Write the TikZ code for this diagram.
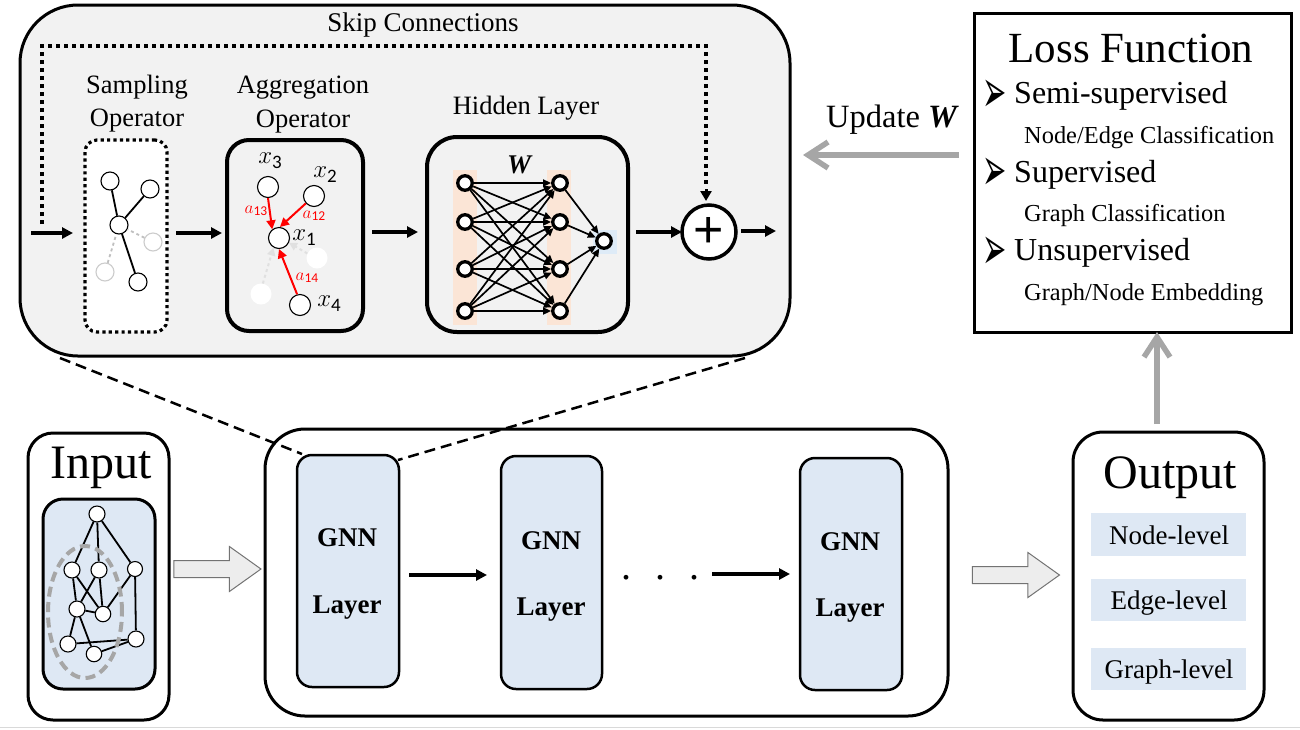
\documentclass[tikz,border=0pt]{standalone}
\usepackage{fontspec}
\usepackage{graphicx}
\setmainfont{Liberation Serif}
\newfontfamily\plusfont{Liberation Sans}
\newfontfamily\markfont{DejaVu Sans}
\newfontfamily\digitfont{Carlito}
\usetikzlibrary{arrows.meta,shapes.arrows,shapes.geometric}
\definecolor{panel}{HTML}{F2F2F2}
\definecolor{gnnblue}{HTML}{DEE8F4}
\definecolor{lightblue}{HTML}{DEEBF7}
\definecolor{peach}{HTML}{FBE5D6}
\definecolor{midgray}{HTML}{A6A6A6}
\definecolor{blockfill}{HTML}{EDEDED}
\newcommand{\fs}[1]{\fontsize{#1}{#1}\selectfont}
\newcommand{\xsub}[1]{\fs{27}$x$\raisebox{-5pt}{\digitfont\fs{19}#1}}
\newcommand{\asub}[1]{\fs{18}$a$\raisebox{-2.5pt}{\digitfont\fs{13.5}#1}}
\newcommand{\mk}{\markfont\fs{29}\scalebox{1}[2.1]{➢}}
% \rbox{name}{style}{x1}{y1}{x2}{y2}
\newcommand{\rbox}[6]{%
  \pgfmathsetmacro{\rw}{#5-#3}\pgfmathsetmacro{\rh}{#6-#4}%
  \pgfmathsetmacro{\rx}{(#3+#5)/2}\pgfmathsetmacro{\ry}{(#4+#6)/2}%
  \node[#2,minimum width=\rw pt,minimum height=\rh pt,inner sep=0pt,outer sep=0pt] (#1) at (\rx,\ry) {};}
\tikzset{
  arr/.style={line width=3.4pt,-{Triangle[length=11pt,width=11pt]}},
  nnedge/.style={line width=1.7pt,-{Triangle[length=8pt,width=7pt]}},
  lab/.style={inner sep=0pt,align=center},
  blab/.style={inner sep=0pt,anchor=base},
  blw/.style={inner sep=0pt,anchor=base west},
  gnnbox/.style={draw,rounded corners=15pt,fill=gnnblue,line width=2.5pt},
  outlabel/.style={fill=gnnblue},
  vsmall/.style={circle,draw,fill=white,line width=1.1pt,minimum size=18pt,inner sep=0pt},
  vgray/.style={circle,draw=black!20,fill=white,line width=1.1pt,minimum size=18pt,inner sep=0pt},
  vagg/.style={circle,draw,fill=white,line width=1.1pt,minimum size=21pt,inner sep=0pt},
  vfaint/.style={circle,fill=white,minimum size=21pt,inner sep=0pt},
  vin/.style={circle,draw,fill=white,line width=1.1pt,inner sep=0pt},
  nnv/.style={circle,draw,fill=white,line width=3.3pt,minimum size=14.5pt,inner sep=0pt},
  gedge/.style={line width=1.8pt},
  redarr/.style={draw=red,line width=2pt,-{Triangle[length=9pt,width=9pt]}},
  faintarr/.style={draw=black!12,line width=2pt,dashed,-{Triangle[length=8pt,width=8pt]}},
  blockarr/.style={single arrow,draw=black!55,fill=blockfill,line width=1pt,minimum width=44pt,minimum height=87pt,single arrow head extend=14pt,single arrow tip angle=71,inner xsep=0pt,inner ysep=8pt,outer sep=0pt},
  grayarr/.style={draw=midgray,line width=5.5pt,-{Straight Barb[length=20pt,width=26pt,line width=5.5pt]}}
}
\begin{document}
\begin{tikzpicture}[x=1pt,y=-1pt]
\useasboundingbox (0,0) rectangle (1300,729);
\draw[black!15,line width=1pt] (0,727.5) -- (1300,727.5);

% ---------- top panel
\rbox{panelbox}{draw,fill=panel,rounded corners=58pt,line width=3pt}{20}{5}{790}{356}
\node[blab] (skiplabel) at (423,31) {\fs{27}Skip Connections};

\rbox{samp}{draw,fill=white,rounded corners=12pt,line width=3.2pt,dash pattern=on 3.2pt off 3.2pt}{85}{140}{167}{332}
\rbox{agg}{draw,rounded corners=22pt,line width=4pt}{227}{140}{363}{331}
\rbox{hid}{draw,rounded corners=30pt,line width=4pt}{427}{137}{628}{332}

\node[blab] (samplabel) at (137,93) {\fs{26.5}Sampling};
\node[blab] (samplabelb) at (137,126) {\fs{26.5}Operator};
\node[blab] (agglabel) at (303,93) {\fs{26.5}Aggregation};
\node[blab] (agglabelb) at (303,127) {\fs{26.5}Operator};
\node[blab] (hidlabel) at (526,114) {\fs{26.5}Hidden Layer};

% sampling graph
\node[vsmall] (s1) at (110,181) {};
\node[vsmall] (s2) at (150,189) {};
\node[vsmall] (s0) at (119,225) {};
\node[vgray]  (s3) at (153,242) {};
\node[vgray]  (s4) at (105,272) {};
\node[vsmall] (s5) at (138,282) {};
\draw[gedge] (s1) -- (s0);
\draw[gedge] (s2) -- (s0);
\draw[gedge] (s5) -- (s0);
\draw[gedge,black!25,dashed] (s3) -- (s0);
\draw[gedge,black!25,dashed] (s4) -- (s0);

% aggregation graph
\node[vagg] (a3) at (268,187) {};
\node[vagg] (a2) at (314,196) {};
\node[vagg] (a1) at (279,238) {};
\node[vfaint] (af1) at (317,258) {};
\node[vfaint] (af2) at (261,294) {};
\node[vagg] (a4) at (300,305) {};
\draw[faintarr] (af1.155) -- (a1.-25);
\draw[faintarr] (af2.80) -- (a1.240);
\draw[redarr] (a3.south) -- (a1.128);
\draw[redarr] (a2.222) -- (a1.85);
\draw[redarr] (a4.105) -- (a1.270);
\node[lab] (lx3) at (270,161) {\xsub{3}};
\node[lab] (lx2) at (325,175) {\xsub{2}};
\node[lab] (lx1) at (304,238) {\xsub{1}};
\node[lab] (lx4) at (329,304) {\xsub{4}};
\node[lab,text=red] (l13) at (256,211) {\asub{13}};
\node[lab,text=red] (l12) at (314,216) {\asub{12}};
\node[lab,text=red] (l14) at (307,278) {\asub{14}};

% hidden layer
\rbox{bandl}{fill=peach}{453}{170}{477}{325}
\rbox{bandm}{fill=peach}{547}{170}{571}{325}
\rbox{bando}{fill=lightblue}{593}{230}{617}{254}
\node[lab] (wlabel) at (520,165) {\fs{27}\textbf{\textit{W}}};
\node[nnv] (l1) at (465,183) {};
\node[nnv] (l2) at (465,222) {};
\node[nnv] (l3) at (465,269) {};
\node[nnv] (l4) at (465,311) {};
\node[nnv] (m1) at (560,183) {};
\node[nnv] (m2) at (560,222) {};
\node[nnv] (m3) at (560,269) {};
\node[nnv] (m4) at (560,311) {};
\node[nnv] (o1) at (604,241) {};
\foreach \i in {1,2,3,4}{
  \foreach \j in {1,2,3,4}{
    \draw[nnedge] (l\i) -- (m\j);
  }
  \draw[nnedge] (m\i) -- (o1);
}

% plus
\node[circle,draw,fill=white,line width=3.5pt,minimum size=54pt,inner sep=0pt,outer sep=0pt] (plus) at (709,232) {};
\node[lab] (plussign) at (709,232) {\plusfont\fs{52}+};

% panel arrows
\coordinate (inA) at (31,233);
\coordinate (outA) at (776,231);
\coordinate (skipA) at (42,224);
\coordinate (skipB) at (42,46);
\coordinate (skipC) at (706,46);
\draw[arr] (inA) -- ([xshift=-12pt,yshift=3pt]samp.west);
\draw[arr] ([xshift=9pt,yshift=3pt]samp.east) -- ([xshift=-5pt,yshift=2.5pt]agg.west);
\draw[arr] ([xshift=9pt,yshift=3.5pt]agg.east) -- ([xshift=-9pt,yshift=2.5pt]hid.west);
\draw[arr] ([xshift=8pt,yshift=2.5pt]hid.east) -- (plus.west);
\draw[arr] ([xshift=5pt,yshift=1pt]plus.east) -- (outA);
\draw[line width=4pt,dash pattern=on 4pt off 4pt] (skipA) -- (skipB) -- (skipC) -- ([xshift=-3pt,yshift=20pt]plus.north);
\draw[-{Triangle[length=10pt,width=11pt]},line width=3pt] ([xshift=-3pt,yshift=16pt]plus.north) -- ([xshift=-3pt,yshift=4pt]plus.north);

% ---------- bottom row
\rbox{input}{draw,rounded corners=25pt,line width=3pt}{28}{433}{169}{720}
\node[blab] (inputlabel) at (101,478) {\fs{48}Input};
\rbox{graphbox}{draw,fill=gnnblue,rounded corners=20pt,line width=3pt}{43}{499}{155}{689}
\node[vin,minimum size=16pt] (g1) at (97,514) {};
\node[vin,minimum size=16pt] (g2) at (72,570) {};
\node[vin,minimum size=16pt] (g3) at (99,570) {};
\node[vin,minimum size=15pt] (g4) at (135,569) {};
\node[vin,minimum size=16pt] (g5) at (77,609) {};
\node[vin,minimum size=15.5pt] (g6) at (103,614) {};
\node[vin,minimum size=16pt] (g7) at (68,644) {};
\node[vin,minimum size=15.5pt] (g8) at (94,654) {};
\node[vin,minimum size=16pt] (g9) at (136,639) {};
\foreach \p/\q in {g1/g2,g1/g3,g1/g4,g2/g5,g2/g6,g3/g5,g3/g6,g4/g6,g4/g9,g5/g6,g5/g7,g5/g8,g7/g9,g8/g9}{
  \draw[gedge] (\p) -- (\q);
}
\node[ellipse,draw=midgray,line width=4pt,dash pattern=on 10pt off 5.5pt,minimum width=74pt,minimum height=132pt,inner sep=0pt] (cluster) at (85,612) {};

\node[blockarr] (block1) at (211.5,569) {};
\node[blockarr] (block2) at (1010,575) {};

\rbox{mid}{draw,rounded corners=40pt,line width=3pt}{265}{429}{948}{716}
\rbox{gnnA}{gnnbox}{297}{455}{399}{687}
\rbox{gnnB}{gnnbox}{501}{456}{602}{689}
\rbox{gnnC}{gnnbox}{800}{458}{902}{690}
\node[blab] (gA1) at (347,546) {\fs{27}\textbf{GNN}};
\node[blab] (gA2) at (347,613) {\fs{27}\textbf{Layer}};
\node[blab] (gB1) at (551,549) {\fs{27}\textbf{GNN}};
\node[blab] (gB2) at (551,615) {\fs{27}\textbf{Layer}};
\node[blab] (gC1) at (850,550) {\fs{27}\textbf{GNN}};
\node[blab] (gC2) at (850,616) {\fs{27}\textbf{Layer}};
\draw[arr] ([xshift=10pt,yshift=-4pt]gnnA.east) -- ([xshift=-14pt,yshift=-2.5pt]gnnB.west);
\coordinate (dotsend) at (712,574);
\draw[arr] (dotsend) -- ([xshift=-10pt]gnnC.west |- dotsend);
\node[blab] (dots) at (660,579) {\fs{40}.\hspace{24pt}.\hspace{24pt}.};

\coordinate (dashA) at (60,358);
\coordinate (dashB) at (745,358);
\draw[line width=2.5pt,dash pattern=on 11pt off 6pt] (dashA) -- ([xshift=5pt,yshift=1pt]gnnA.north west);
\draw[line width=2.5pt,dash pattern=on 11pt off 6pt] (dashB) -- ([yshift=-5pt,xshift=-1pt]gnnA.north east);

\rbox{output}{draw,rounded corners=30pt,line width=3pt}{1073}{432}{1264}{720}
\node[blab] (outputlabel) at (1170,488) {\fs{48}Output};
\rbox{nl}{outlabel}{1091}{513}{1246}{556}
\rbox{el}{outlabel}{1091}{579}{1246}{621}
\rbox{grl}{outlabel}{1091}{648}{1246}{690}
\node[blab] (nltext) at (1169,544) {\fs{27}Node-level};
\node[blab] (eltext) at (1169,609) {\fs{27}Edge-level};
\node[blab] (grltext) at (1169,678) {\fs{27}Graph-level};

% ---------- loss box
\rbox{loss}{draw,line width=3pt}{974}{13}{1291}{332}
\node[blab] (losslabel) at (1131,62) {\fs{43}Loss Function};
\node[lab] (m1k) at (995,96) {\mk};
\node[blw] (t1) at (1014,103) {\fs{32}Semi-supervised};
\node[blw] (t2) at (1024,143) {\fs{24.4}Node/Edge Classification};
\node[lab] (m2k) at (995,174) {\mk};
\node[blw] (t3) at (1014,182) {\fs{32}Supervised};
\node[lab] (m3k) at (995,253) {\mk};
\node[blw] (t4) at (1024,221) {\fs{24.4}Graph Classification};
\node[blw] (t5) at (1014,260) {\fs{32}Unsupervised};
\node[blw] (t6) at (1024,300) {\fs{24.4}Graph/Node Embedding};

\node[blw] (update) at (826,127) {\fs{32.5}Update \textbf{\textit{W}}};
\coordinate (updEnd) at (803,155);
\draw[grayarr] ([xshift=-15pt]loss.west |- updEnd) -- (updEnd);
\coordinate (lossUp) at (1157,424);
\draw[grayarr] (lossUp) -- (lossUp |- loss.south);
\end{tikzpicture}
\end{document}
